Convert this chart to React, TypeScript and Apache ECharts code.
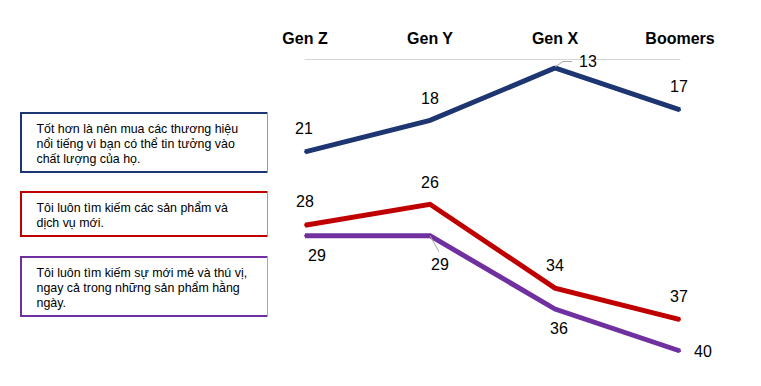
import React, { useEffect, useRef } from 'react';
import * as echarts from 'echarts';

const categories = ['Gen Z', 'Gen Y', 'Gen X', 'Boomers'];
const brandTrust = [21, 18, 13, 17];
const newProducts = [28, 26, 34, 37];
const novelty = [29, 29, 36, 40];
const legendTexts = [
  'Tốt hơn là nên mua các thương hiệu\nnổi tiếng vì bạn có thể tin tưởng vào\nchất lượng của họ.',
  'Tôi luôn tìm kiếm các sản phẩm và\ndịch vụ mới.',
  'Tôi luôn tìm kiếm sự mới mẻ và thú vị,\nngay cả trong những sản phẩm hằng\nngày.',
];
const colors = ['#1d3570', '#c00000', '#7030a0'];
const lightColors = ['#8f9ab8', '#e08080', '#b898d0'];

// label offsets (centre of label relative to point)
const labelOffsets = [
  [[-1, -23], [0, -22], [33, -6.5], [-1, -23.5]],
  [[0, -23.5], [0, -22], [0, -23], [-1, -23]],
  [[12, 20], [10, 29], [4, 19.5], [23, 0]],
];

const FONT = '"Liberation Sans", Arial, sans-serif';

export default function App() {
  const ref = useRef<HTMLDivElement>(null);
  useEffect(() => {
    if (!ref.current) return;
    const chart = echarts.init(ref.current, undefined, { renderer: 'svg' });
    const allValues = [brandTrust, newProducts, novelty];
    const series = allValues.map((vals, si) => ({
      type: 'line',
      name: legendTexts[si],
      data: vals.map((v, i) => ({
        value: v,
        label: { offset: labelOffsets[si][i] },
      })),
      symbol: 'circle',
      symbolSize: 2,
      showSymbol: true,
      itemStyle: { color: colors[si] },
      lineStyle: { color: colors[si], width: 5, join: 'miter', cap: 'butt' },
      label: {
        show: true,
        position: 'inside',
        color: '#000',
        fontSize: 16,
        fontFamily: FONT,
      },
      z: 3 - si,
    }));

    const boxes = [
      { top: 112, bottom: 173 },
      { top: 191, bottom: 237 },
      { top: 256, bottom: 317 },
    ];
    const left = 20, right = 268;
    const boxGraphics: any[] = [];
    boxes.forEach((b, i) => {
      boxGraphics.push({
        type: 'rect',
        shape: { x: left, y: b.top, width: right - left, height: b.bottom - b.top },
        style: { fill: '#fff' },
        z: 1,
      });
      boxGraphics.push({
        type: 'polyline',
        shape: { points: [[right - 1, b.top + 1], [left + 1, b.top + 1], [left + 1, b.bottom - 1], [right - 1, b.bottom - 1]] },
        style: { stroke: colors[i], lineWidth: 2, fill: null },
        z: 2,
      });
      boxGraphics.push({
        type: 'line',
        shape: { x1: right - 0.5, y1: b.top, x2: right - 0.5, y2: b.bottom },
        style: { stroke: lightColors[i], lineWidth: 1 },
        z: 2,
      });
      boxGraphics.push({
        type: 'text',
        x: 36.5,
        y: b.top + 9.5,
        style: {
          text: legendTexts[i],
          font: `12.4px ${FONT}`,
          fill: '#000',
          lineHeight: 15,
          verticalAlign: 'top',
          align: 'left',
        },
        z: 3,
      });
    });

    chart.setOption({
      animation: false,
      backgroundColor: '#fff',
      grid: { left: 305, right: 81, top: 68, bottom: 35 },
      xAxis: {
        type: 'category',
        data: categories,
        position: 'top',
        offset: 9,
        boundaryGap: false,
        axisLine: { show: true, lineStyle: { color: '#d6d6d6', width: 1 } },
        axisTick: { show: false },
        axisLabel: {
          color: '#000',
          fontWeight: 'bold',
          fontSize: 16,
          fontFamily: FONT,
          margin: 13,
        },
        splitLine: { show: false },
      },
      yAxis: {
        type: 'value',
        inverse: true,
        min: 13,
        max: 40,
        show: false,
        splitLine: { show: false },
      },
      series,
      graphic: boxGraphics,
    });

    const leaders = [
      { si: 0, idx: 2, pts: [[0, -1], [8, -6.5], [17, -6.5]] },
      { si: 2, idx: 1, pts: [[0, 0], [9, 16]] },
    ];
    const leaderGraphics = leaders.map((l) => {
      const p = chart.convertToPixel({ xAxisIndex: 0, yAxisIndex: 0 }, [
        categories[l.idx],
        allValues[l.si][l.idx],
      ]) as number[];
      return {
        type: 'polyline',
        shape: { points: l.pts.map(([dx, dy]) => [p[0] + dx, p[1] + dy]) },
        style: { stroke: '#a6a6a6', lineWidth: 1, fill: null },
        z: 10,
      };
    });
    chart.setOption({ graphic: [...boxGraphics, ...leaderGraphics] });

    return () => chart.dispose();
  }, []);
  return (
    <div
      ref={ref}
      style={{ position: 'absolute', left: 0, top: 0, width: 761, height: 386 }}
    />
  );
}
